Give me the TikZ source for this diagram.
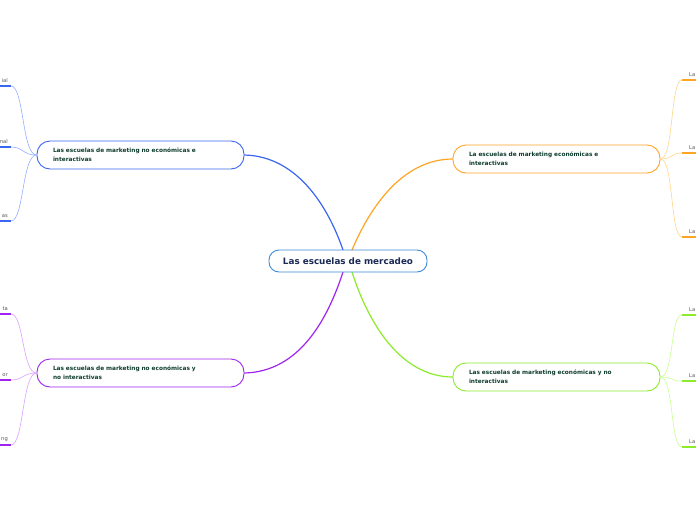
\documentclass[tikz,border=0pt]{standalone}
\usepackage{fontspec}
\setmainfont{DejaVu Sans}
\definecolor{cblue}{HTML}{3A66F2}
\definecolor{lblue}{HTML}{93AEFF}
\definecolor{corange}{HTML}{FFA424}
\definecolor{lorange}{HTML}{FFD58A}
\definecolor{cpurple}{HTML}{A024F0}
\definecolor{lpurple}{HTML}{D9A0FF}
\definecolor{cgreen}{HTML}{8CEB2A}
\definecolor{lgreen}{HTML}{C8FF94}
\definecolor{ccenter}{HTML}{3D8AD6}
\definecolor{ctext}{HTML}{0F3D2E}
\definecolor{cnavy}{HTML}{1B2A55}
\definecolor{cleaf}{HTML}{555555}
\tikzset{
  x=1pt, y=-1pt,
  centerbox/.style={draw=ccenter, line width=0.9pt, fill=white, rounded corners=10pt,
    minimum width=158pt, minimum height=22pt, inner sep=0pt,
    font=\fontsize{8.8}{10}\selectfont\bfseries, text=cnavy},
  branchbox/.style={draw=#1, line width=0.9pt, fill=white, rounded corners=13pt,
    minimum height=28pt, text width=175pt, inner xsep=16pt, inner ysep=0pt, align=left,
    font=\fontsize{5.8}{8.6}\selectfont\bfseries, text=ctext},
  mainlink/.style={draw=#1, line width=1.2pt},
  leaflink/.style={draw=#1, line width=0.6pt},
  leafline/.style={draw=#1, line width=1.6pt},
  leaftext/.style={font=\fontsize{5.2}{6}\selectfont, text=cleaf, inner sep=0pt},
}
\begin{document}
\begin{tikzpicture}
\useasboundingbox (0,0) rectangle (696,520);
% main links (drawn first)
\coordinate (cTL) at (343,250);
\coordinate (cTR) at (352,250);
\coordinate (cBL) at (343,272);
\coordinate (cBR) at (352,272);
\coordinate (bTLe) at (244,155);
\coordinate (bTRw) at (453,159);
\coordinate (bBLe) at (244,373);
\coordinate (bBRw) at (453,377);
\draw[mainlink=cblue] (bTLe) .. controls (300,156) and (330,212) .. (cTL);
\draw[mainlink=corange] (bTRw) .. controls (400,159) and (368,212) .. (cTR);
\draw[mainlink=cpurple] (bBLe) .. controls (300,372) and (328,318) .. (cBL);
\draw[mainlink=cgreen] (bBRw) .. controls (400,377) and (368,322) .. (cBR);
% center
\node[centerbox] (c) at (348,261) {Las escuelas de mercadeo};
% branches
\node[branchbox=cblue] (b1) at (140.5,155) {Las escuelas de marketing no económicas e\\interactivas};
\node[branchbox=corange] (b2) at (556.5,159) {La escuelas de marketing económicas e\\interactivas};
\node[branchbox=cpurple] (b3) at (140.5,373) {Las escuelas de marketing no económicas y\\no interactivas};
\node[branchbox=cgreen] (b4) at (556.5,377) {Las escuelas de marketing económicas y no\\interactivas};
% left leaves (blue)
\foreach \y/\t [count=\i] in {86/ial,147/nal,221/as}{
  \coordinate (lb\i) at (11,\y);
  \coordinate (lb\i x) at (0,\y);
  \draw[leaflink=lblue] (b1.west) .. controls (22,155) and (24,\y) .. (lb\i);
  \draw[leafline=cblue] (lb\i) -- (lb\i x);
  \node[leaftext, anchor=south east] (tb\i) at (8,\y-3) {\t};
}
% left leaves (purple)
\foreach \y/\t [count=\i] in {314/ta,380/or,445/ng}{
  \coordinate (lp\i) at (11,\y);
  \coordinate (lp\i x) at (0,\y);
  \draw[leaflink=lpurple] (b3.west) .. controls (22,373) and (24,\y) .. (lp\i);
  \draw[leafline=cpurple] (lp\i) -- (lp\i x);
  \node[leaftext, anchor=south east] (tp\i) at (8,\y-3) {\t};
}
% right leaves (orange)
\foreach \y [count=\i] in {80,153,237}{
  \coordinate (lo\i) at (682,\y);
  \coordinate (lo\i x) at (696,\y);
  \draw[leaflink=lorange] (b2.east) .. controls (674,159) and (670,\y) .. (lo\i);
  \draw[leafline=corange] (lo\i) -- (lo\i x);
  \node[leaftext, anchor=south west] (to\i) at (689,\y-3) {La};
}
% right leaves (green)
\foreach \y [count=\i] in {315,381,447}{
  \coordinate (lg\i) at (682,\y);
  \coordinate (lg\i x) at (696,\y);
  \draw[leaflink=lgreen] (b4.east) .. controls (674,377) and (670,\y) .. (lg\i);
  \draw[leafline=cgreen] (lg\i) -- (lg\i x);
  \node[leaftext, anchor=south west] (tg\i) at (689,\y-3) {La};
}
\end{tikzpicture}
\end{document}
